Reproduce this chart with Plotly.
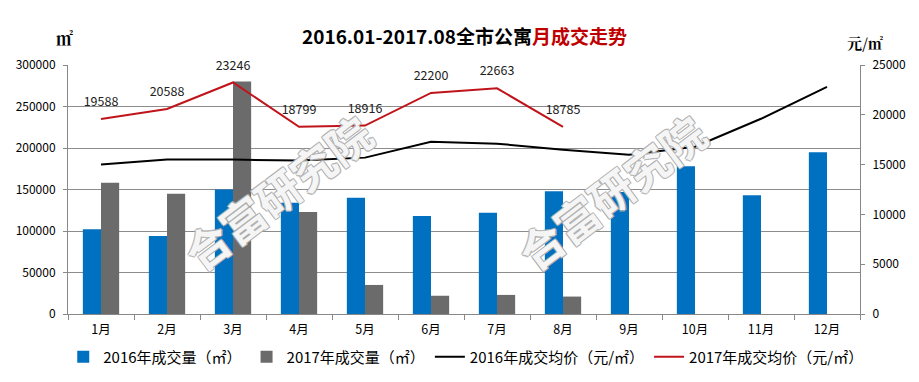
import plotly.graph_objects as go

months = ["1月", "2月", "3月", "4月", "5月", "6月", "7月", "8月", "9月", "10月", "11月", "12月"]
vol_2016 = [102000, 94000, 150000, 134000, 140000, 118000, 122000, 148000, 147000, 178000, 143000, 195000]
vol_2017 = [158000, 145000, 280000, 123000, 35000, 22000, 23000, 21000]
price_2016 = [15000, 15500, 15500, 15400, 15700, 17300, 17100, 16500, 16000, 16800, 19600, 22800]
price_2017 = [19588, 20588, 23246, 18799, 18916, 22200, 22663, 18785]

BLUE = "#0070C0"
GRAY = "#6B6B6B"
RED = "#C0141B"
FONT = "Noto Sans CJK SC"

fig = go.Figure()
fig.add_trace(go.Bar(x=months, y=vol_2016, name="2016年成交量（㎡）", marker_color=BLUE,
                     marker_line_width=0, offsetgroup="a"))
fig.add_trace(go.Bar(x=months[:len(vol_2017)], y=vol_2017, name="2017年成交量（㎡）", marker_color=GRAY,
                     marker_line_width=0, offsetgroup="b"))
fig.add_trace(go.Scatter(x=months, y=price_2016, name="2016年成交均价（元/㎡）", mode="lines",
                         line=dict(color="black", width=2), yaxis="y2"))
fig.add_trace(go.Scatter(x=months[:len(price_2017)], y=price_2017, name="2017年成交均价（元/㎡）",
                         mode="lines+markers+text", text=[str(v) for v in price_2017],
                         textposition="top center",
                         marker=dict(size=14, color="rgba(0,0,0,0)"),
                         textfont=dict(size=12.5, color="#222222", family=FONT),
                         line=dict(color=RED, width=2), yaxis="y2", cliponaxis=False))

# watermarks (outlined look)
outline = "1px 1px 0 #b0b0b0, -1px -1px 0 #b0b0b0, 1px -1px 0 #b0b0b0, -1px 1px 0 #b0b0b0"
for xp, yp in [(0.264, 0.49), (0.685, 0.49)]:
    fig.add_annotation(text="<b>合富研究院</b>", xref="paper", yref="paper", x=xp, y=yp,
                       xanchor="center", yanchor="middle",
                       showarrow=False, textangle=-37,
                       font=dict(size=44, color="rgba(255,255,255,0.9)", family=FONT, shadow=outline))

fig.add_annotation(text="<b>2016.01-2017.08全市公寓</b><b><span style='color:#C00000'>月成交走势</span></b>",
                   xref="paper", yref="paper", x=0.5, y=1.0, yshift=30, yanchor="middle", showarrow=False,
                   font=dict(size=19, color="black", family=FONT))
fig.add_annotation(text="<b>㎡</b>", xref="paper", yref="paper", x=-0.005, y=1.0, yshift=28,
                   xanchor="center", yanchor="middle", showarrow=False,
                   font=dict(size=17, color="black", family="Noto Serif CJK SC, DejaVu Serif"))
fig.add_annotation(text="<b>元/㎡</b>", xref="paper", yref="paper", x=1.006, y=1.0, yshift=23,
                   xanchor="center", yanchor="middle", showarrow=False,
                   font=dict(size=15, color="black", family="Noto Serif CJK SC, DejaVu Serif"))

# page body has an 8px margin: shift the plot area accordingly
fig.update_layout(
    width=919, height=382,
    margin=dict(l=60, r=67, t=57, b=76, autoexpand=False),
    paper_bgcolor="white", plot_bgcolor="white",
    barmode="group", bargap=0.45, bargroupgap=0,
    font=dict(family=FONT, size=12, color="black"),
    showlegend=True,
    legend=dict(orientation="h", x=-0.006, xanchor="left", y=-0.173, yanchor="middle",
                font=dict(size=15, family=FONT), itemwidth=30, traceorder="normal"),
    xaxis=dict(range=[-0.5, len(months) - 0.5], showline=True, linecolor="#888888", ticks="outside",
               tickcolor="#888888", ticklen=5, tickson="boundaries", showgrid=False,
               tickfont=dict(size=12.5), ticklabelstandoff=4, automargin=False),
    yaxis=dict(range=[0, 300000], dtick=50000, tickformat="d", showgrid=True, gridcolor="#8C8C8C",
               gridwidth=1, showline=True, linecolor="#888888", ticks="outside", tickcolor="#888888",
               ticklen=4, ticklabelstandoff=5, zeroline=False, tickfont=dict(size=12), automargin=False),
    yaxis2=dict(range=[0, 25000], dtick=5000, tickformat="d", overlaying="y", side="right",
                showgrid=False, showline=True, linecolor="#888888", ticks="outside", tickcolor="#888888",
                ticklen=4, ticklabelstandoff=5, zeroline=False, tickfont=dict(size=12), automargin=False),
)

fig.write_html("out.html")
